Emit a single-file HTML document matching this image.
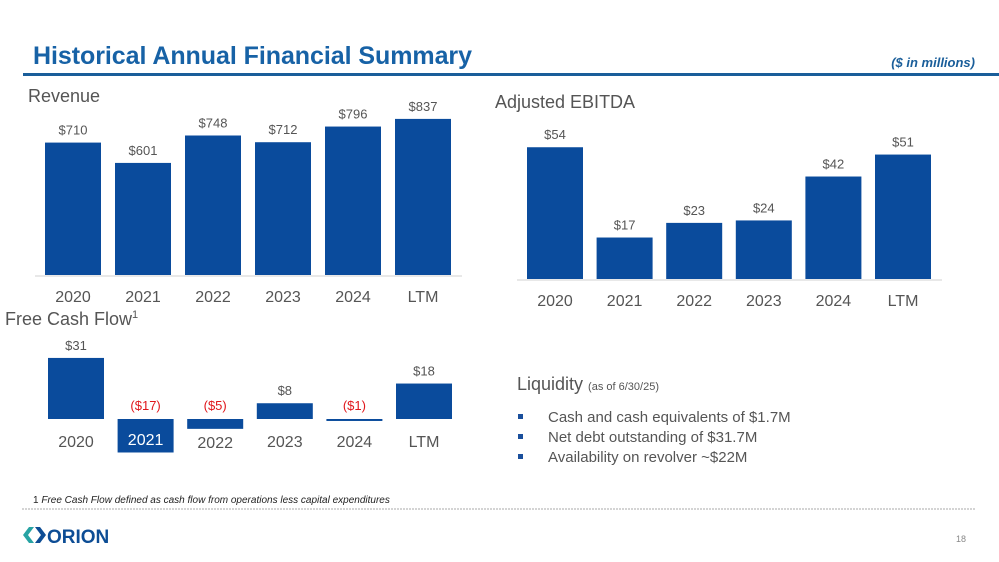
<!DOCTYPE html>
<html><head><meta charset="utf-8"><style>
body{margin:0;background:#fff;font-family:"Liberation Sans",Arial,sans-serif;}
#wrap{position:relative;width:999px;height:562px;overflow:hidden;}
svg text{font-family:"Liberation Sans",Arial,sans-serif;}
</style></head><body>
<div id="wrap">
<svg id="s" width="999" height="562" viewBox="0 0 999 562">
<text x="33" y="64" font-size="25" font-weight="bold" fill="#1762a6" textLength="439">Historical Annual Financial Summary</text>
<rect x="23" y="73" width="976" height="3" fill="#1a5e9a"/>
<text x="975" y="67" font-size="13" font-weight="bold" font-style="italic" fill="#1a5e9a" text-anchor="end">($ in millions)</text>
<text x="28" y="102" font-size="18" fill="#555">Revenue</text>
<text x="495" y="108" font-size="18" fill="#555">Adjusted EBITDA</text>
<text x="5" y="325" font-size="18" fill="#555">Free Cash Flow<tspan font-size="11" dy="-7">1</tspan></text>
<g id="rev"></g>
<g id="ebt"></g>
<g id="fcf"></g>
<text x="517" y="390" font-size="18" fill="#555">Liquidity <tspan font-size="11">(as of 6/30/25)</tspan></text>
<g font-size="15" fill="#555">
<rect x="518" y="414" width="5" height="5" fill="#1a4f9c"/><text x="548" y="422">Cash and cash equivalents of $1.7M</text>
<rect x="518" y="434" width="5" height="5" fill="#1a4f9c"/><text x="548" y="442">Net debt outstanding of $31.7M</text>
<rect x="518" y="454" width="5" height="5" fill="#1a4f9c"/><text x="548" y="462">Availability on revolver ~$22M</text>
</g>
<text x="33" y="503" font-size="10" fill="#222">1  <tspan font-style="italic">Free Cash Flow defined as cash flow from operations less capital expenditures</tspan></text>
<line x1="22" y1="509" x2="975" y2="509" stroke="#aaa" stroke-width="1" stroke-dasharray="2,1"/>
<g>
<polygon points="23,535 29,527 34,527 28,535 34,543 29,543" fill="#27a3a3"/>
<polygon points="35,527 40,527 46,535 40,543 35,543 41,535" fill="#0d4d95"/>
<text x="47" y="543" font-size="19" font-weight="bold" fill="#0d4d95">ORION</text>
</g>
<text x="966" y="542" font-size="9" fill="#888" text-anchor="end">18</text>
</svg>
</div>
<script>
const cats = ["2020","2021","2022","2023","2024","LTM"];
const revValues = [710,601,748,712,796,837];
const ebitdaValues = [54,17,23,24,42,51];
const fcfValues = [31,-17,-5,8,-1,18];
const revLabels = ["$710","$601","$748","$712","$796","$837"];
const ebitdaLabels = ["$54","$17","$23","$24","$42","$51"];
const fcfLabels = ["$31","($17)","($5)","$8","($1)","$18"];
const NS="http://www.w3.org/2000/svg";
function mk(g,tag,attrs,txt){const e=document.createElementNS(NS,tag);for(const k in attrs)e.setAttribute(k,attrs[k]);if(txt!==undefined)e.textContent=txt;g.appendChild(e);return e;}
function chart(id,vals,labels,x0,step,bw,base,scale,catY,axisX1,axisX2,name){
  const g=document.getElementById(id);
  const ax=mk(g,"line",{x1:axisX1,x2:axisX2,y1:base+1,y2:base+1,stroke:"#d0d0d0","stroke-width":1});
  
  
  vals.forEach((v,i)=>{
    const x=x0+i*step, h=v*scale;
    const r=mk(g,"rect",{x:x,y:base-h,width:bw,height:h,fill:"#0a4b9c"});
    
    
    const t=mk(g,"text",{x:x+bw/2,y:base-h-8,"font-size":13,fill:"#555","text-anchor":"middle"},labels[i]);
    
    
    const c=mk(g,"text",{x:x+bw/2,y:catY,"font-size":16,fill:"#555","text-anchor":"middle"},cats[i]);
    
    
  });
}
chart("rev",revValues,revLabels,45,70,56,275,0.1865,302,35,462,"revenue");
chart("ebt",ebitdaValues,ebitdaLabels,527,69.6,56,279,2.44,306,517,942,"ebitda");
(function(){
  const g=document.getElementById("fcf");
  const base=419, scale=1.97, x0=48, step=69.6, bw=56;
  fcfValues.forEach((v,i)=>{
    const x=x0+i*step, h=Math.abs(v)*scale, top=v>=0?base-h:base;
    const r=mk(g,"rect",{x:x,y:top,width:bw,height:h,fill:"#0a4b9c"});
    
    
    const ty=v>=0?base-h-8:base-9;
    const t=mk(g,"text",{x:x+bw/2,y:ty,"font-size":13,fill:v<0?"#e0161b":"#555","text-anchor":"middle"},fcfLabels[i]);
    
    
    let cy=v>=0?447:Math.max(447,base+h+19);
    let fill="#555";
    if(v<0 && h>25){cy=base+Math.min(h,28)-2;fill="#fff";}
    const c=mk(g,"text",{x:x+bw/2,y:cy,"font-size":16,fill:fill,"text-anchor":"middle"},cats[i]);
    
    
  });
})();
</script>
</body></html>
